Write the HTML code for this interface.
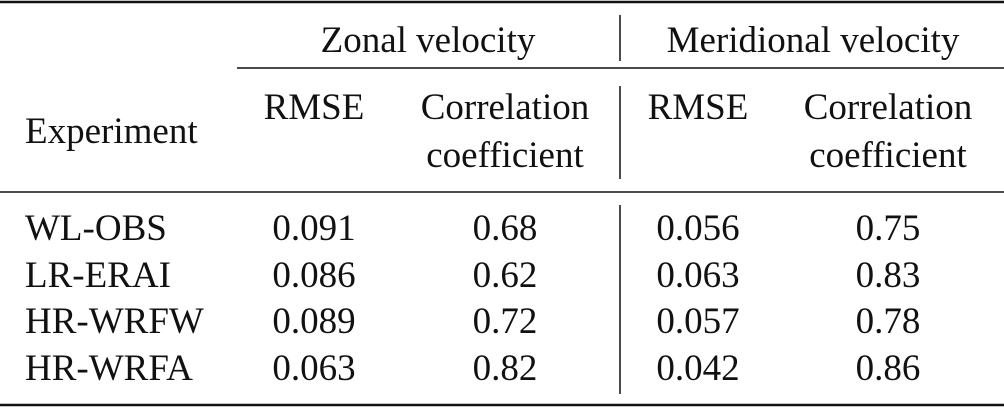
<!DOCTYPE html>
<html><head><meta charset="utf-8"><style>
html,body{margin:0;padding:0;background:#fff;}
svg{display:block;}
text{font-family:"Liberation Serif","Times New Roman",serif;font-size:37px;fill:#111;}
</style></head><body>
<svg width="1004" height="408" viewBox="0 0 1004 408">
<line x1="0" y1="2" x2="1004" y2="2" stroke="#111" stroke-width="2.5"/>
<line x1="237" y1="68" x2="1004" y2="68" stroke="#111" stroke-width="1.5"/>
<line x1="0" y1="192" x2="1004" y2="192" stroke="#111" stroke-width="1.5"/>
<line x1="0" y1="405" x2="1004" y2="405" stroke="#111" stroke-width="2.5"/>
<line x1="620" y1="15" x2="620" y2="61" stroke="#111" stroke-width="1.5"/>
<line x1="620" y1="86" x2="620" y2="179" stroke="#111" stroke-width="1.5"/>
<line x1="620" y1="205" x2="620" y2="394" stroke="#111" stroke-width="1.5"/>
<text x="428" y="52" text-anchor="middle">Zonal velocity</text>
<text x="813" y="52" text-anchor="middle">Meridional velocity</text>
<text x="25" y="143">Experiment</text>
<text x="314" y="119" text-anchor="middle">RMSE</text>
<text x="505" y="119" text-anchor="middle">Correlation</text>
<text x="505" y="167" text-anchor="middle">coefficient</text>
<text x="698" y="119" text-anchor="middle">RMSE</text>
<text x="888" y="119" text-anchor="middle">Correlation</text>
<text x="888" y="167" text-anchor="middle">coefficient</text>
<g>
<text x="25" y="240">WL-OBS</text><text x="314" y="240" text-anchor="middle">0.091</text><text x="505" y="240" text-anchor="middle">0.68</text><text x="698" y="240" text-anchor="middle">0.056</text><text x="888" y="240" text-anchor="middle">0.75</text></g>
<g>
<text x="25" y="287">LR-ERAI</text><text x="314" y="287" text-anchor="middle">0.086</text><text x="505" y="287" text-anchor="middle">0.62</text><text x="698" y="287" text-anchor="middle">0.063</text><text x="888" y="287" text-anchor="middle">0.83</text></g>
<g>
<text x="25" y="333">HR-WRFW</text><text x="314" y="333" text-anchor="middle">0.089</text><text x="505" y="333" text-anchor="middle">0.72</text><text x="698" y="333" text-anchor="middle">0.057</text><text x="888" y="333" text-anchor="middle">0.78</text></g>
<g>
<text x="25" y="380">HR-WRFA</text><text x="314" y="380" text-anchor="middle">0.063</text><text x="505" y="380" text-anchor="middle">0.82</text><text x="698" y="380" text-anchor="middle">0.042</text><text x="888" y="380" text-anchor="middle">0.86</text></g>
</svg>
</body></html>
